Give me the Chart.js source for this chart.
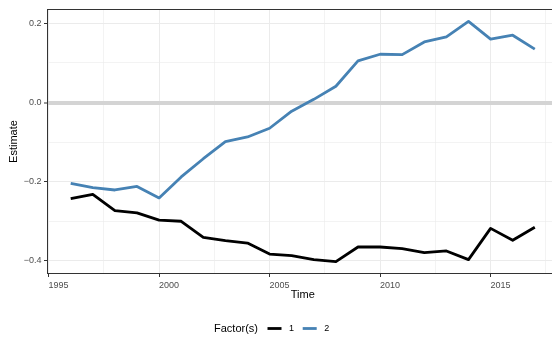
<!DOCTYPE html>
<html>
<head>
<meta charset="utf-8">
<script src="https://cdn.jsdelivr.net/npm/chart.js@4/dist/chart.umd.min.js"></script>
<style>
  html, body { margin: 0; padding: 0; background: #fff; overflow: hidden; }
  #wrap { width: 552px; height: 339px; overflow: hidden; }
</style>
</head>
<body>
<div id="wrap"><canvas id="chart" width="564" height="339"></canvas></div>
<script>
const years = [1996, 1997, 1998, 1999, 2000, 2001, 2002, 2003, 2004, 2005, 2006,
  2007, 2008, 2009, 2010, 2011, 2012, 2013, 2014, 2015, 2016, 2017];
const factor1 = [-0.243, -0.232, -0.273, -0.279, -0.297, -0.300, -0.341, -0.349, -0.355, -0.383, -0.387,
  -0.397, -0.402, -0.365, -0.365, -0.369, -0.379, -0.375, -0.397, -0.318, -0.348, -0.315];
const factor2 = [-0.204, -0.215, -0.221, -0.212, -0.241, -0.188, -0.142, -0.099, -0.087, -0.065, -0.022,
  0.008, 0.041, 0.105, 0.122, 0.121, 0.153, 0.166, 0.205, 0.160, 0.170, 0.135];
const seriesNames = ["1", "2"];
const seriesColors = ["#000000", "#4682B4"];

const xMajorTicks = [1995, 2000, 2005, 2010, 2015];
const xMinorTicks = [1997.5, 2002.5, 2007.5, 2012.5, 2017.5];
const yMajorTicks = [-0.4, -0.2, 0, 0.2];
const yMinorTicks = [-0.3, -0.1, 0.1];

const FONT = "'Liberation Sans', Arial, Helvetica, sans-serif";

function isIn(list, v) {
  return list.some((t) => Math.abs(t - v) < 1e-6);
}
function fmtY(v) {
  const s = Math.abs(v).toFixed(1);
  return v < -1e-9 ? "\u2212" + s : s;
}

// panel border (theme_bw style) + legend at the bottom
const panelBorder = {
  id: "panelBorder",
  afterDatasetsDraw(chart) {
    const { ctx, chartArea: a } = chart;
    ctx.save();
    ctx.strokeStyle = "#333333";
    ctx.lineWidth = 1;
    ctx.strokeRect(a.left, a.top, a.right - a.left, a.bottom - a.top);
    ctx.restore();
  },
};

const bottomLegend = {
  id: "bottomLegend",
  afterDraw(chart) {
    const ctx = chart.ctx;
    const y = 328.5;
    ctx.save();
    ctx.textBaseline = "middle";
    ctx.textAlign = "left";
    ctx.fillStyle = "#000";
    ctx.font = "11px " + FONT;
    ctx.fillText("Factor(s)", 214, y);
    ctx.font = "9px " + FONT;
    chart.data.datasets.forEach((ds, i) => {
      const x0 = 267.5 + i * 35.2;
      ctx.strokeStyle = ds.borderColor;
      ctx.lineWidth = 2.8;
      ctx.beginPath();
      ctx.moveTo(x0, y);
      ctx.lineTo(x0 + 14, y);
      ctx.stroke();
      ctx.fillStyle = "#000";
      ctx.fillText(ds.label, x0 + 21.5, y);
    });
    ctx.restore();
  },
};

const chart = new Chart(document.getElementById("chart"), {
  type: "line",
  data: {
    datasets: [factor1, factor2].map((vals, i) => ({
      label: seriesNames[i],
      data: years.map((yr, j) => ({ x: yr, y: vals[j] })),
      borderColor: seriesColors[i],
      backgroundColor: seriesColors[i],
      borderWidth: 2.8,
      borderJoinStyle: "round",
      pointRadius: 0,
      tension: 0,
    })),
  },
  plugins: [panelBorder, bottomLegend],
  options: {
    responsive: false,
    animation: false,
    devicePixelRatio: 1,
    layout: { padding: { left: 0, right: 6, top: 9.5, bottom: 36 } },
    plugins: {
      legend: { display: false },
      tooltip: { enabled: false },
    },
    scales: {
      x: {
        type: "linear",
        min: 1994.95,
        max: 2018.05,
        afterBuildTicks: (axis) => {
          axis.ticks = [...xMajorTicks, ...xMinorTicks]
            .sort((a, b) => a - b)
            .map((v) => ({ value: v }));
        },
        afterFit: (axis) => {
          axis.height = 29.5;
        },
        border: { display: false },
        grid: {
          color: "#ebebeb",
          lineWidth: (c) => (isIn(xMajorTicks, c.tick.value) ? 1 : 0.6),
          drawTicks: true,
          tickLength: 3.5,
          tickWidth: 1,
          tickColor: (c) => (isIn(xMajorTicks, c.tick.value) ? "#333333" : "rgba(0,0,0,0)"),
        },
        ticks: {
          align: "start",
          maxRotation: 0,
          autoSkip: false,
          padding: 3.5,
          color: "#4d4d4d",
          font: { family: FONT, size: 9 },
          callback: (v) => (isIn(xMajorTicks, v) ? String(v) : ""),
        },
        title: {
          display: true,
          text: "Time",
          color: "#000",
          font: { family: FONT, size: 11 },
          padding: { top: 0, bottom: 1 },
        },
      },
      y: {
        type: "linear",
        min: -0.432,
        max: 0.235,
        afterBuildTicks: (axis) => {
          axis.ticks = [...yMajorTicks, ...yMinorTicks]
            .sort((a, b) => a - b)
            .map((v) => ({ value: v }));
        },
        afterFit: (axis) => {
          axis.width = 47.5;
        },
        border: { display: false },
        grid: {
          color: (c) => (Math.abs(c.tick.value) < 1e-9 ? "#d4d4d4" : "#ebebeb"),
          lineWidth: (c) => {
            if (Math.abs(c.tick.value) < 1e-9) return 4;
            return isIn(yMajorTicks, c.tick.value) ? 1 : 0.6;
          },
          drawTicks: true,
          tickLength: 3.5,
          tickWidth: 1,
          tickColor: (c) => (isIn(yMajorTicks, c.tick.value) ? "#333333" : "rgba(0,0,0,0)"),
        },
        ticks: {
          autoSkip: false,
          padding: 2.5,
          color: "#4d4d4d",
          font: { family: FONT, size: 9 },
          callback: (v) => (isIn(yMajorTicks, v) ? fmtY(v) : ""),
        },
        title: {
          display: true,
          text: "Estimate",
          color: "#000",
          font: { family: FONT, size: 11 },
          padding: { top: 7, bottom: 0 },
        },
      },
    },
  },
});
</script>
</body>
</html>
